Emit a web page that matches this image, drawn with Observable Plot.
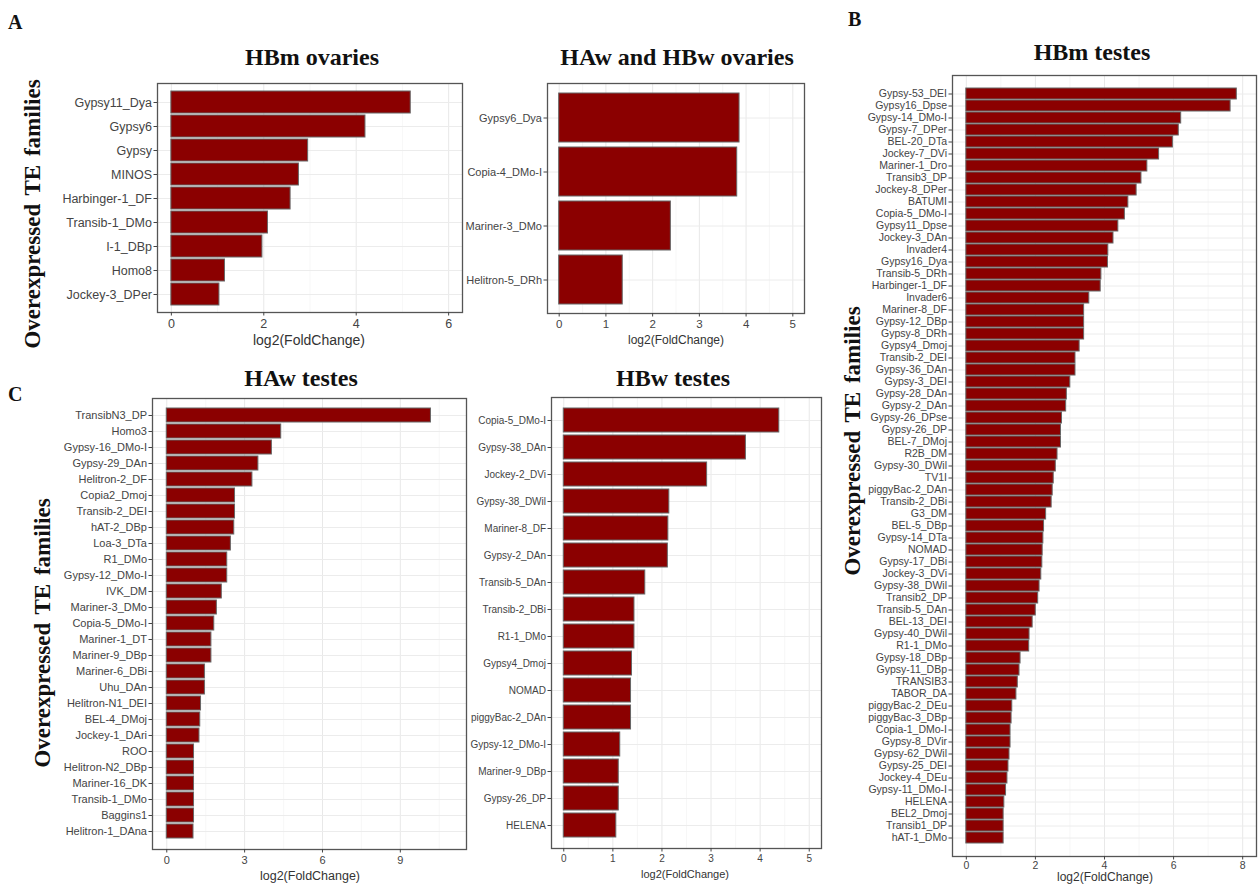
<!DOCTYPE html>
<html>
<head>
<meta charset="utf-8">
<script src="https://cdn.jsdelivr.net/npm/d3@7"></script>
<script src="https://cdn.jsdelivr.net/npm/@observablehq/plot@0.6"></script>
<style>
  html, body { margin: 0; padding: 0; background: #fff; }
  #fig { position: relative; width: 1259px; height: 884px; background: #fff; overflow: hidden; }
  .abs { position: absolute; line-height: 1; white-space: nowrap; }
  .ctr { transform: translate(-50%, -50%); }
  .title { font-family: "Liberation Serif", "Times New Roman", serif; font-weight: bold; font-size: 24px; color: #111; }
  .letter { font-family: "Liberation Serif", "Times New Roman", serif; font-weight: bold; font-size: 20px; color: #111; }
  .ytitle { font-family: "Liberation Serif", "Times New Roman", serif; font-weight: bold; font-size: 23px; color: #111; transform: translate(-50%, -50%) rotate(-90deg); word-spacing: 3px; }
  .xtitle { font-family: "Liberation Sans", Arial, sans-serif; color: #333; }
  .plot { position: absolute; }
</style>
</head>
<body>
<div id="fig"></div>
<script>
// ---------- DATA ----------
// A (left): HBm ovaries
const hbmOvNames = ["Gypsy11_Dya","Gypsy6","Gypsy","MINOS","Harbinger-1_DF","Transib-1_DMo","I-1_DBp","Homo8","Jockey-3_DPer"];
const hbmOvValues = [5.18,4.20,2.96,2.76,2.58,2.09,1.97,1.16,1.04];

// A (right): HAw and HBw ovaries
const hawOvNames = ["Gypsy6_Dya","Copia-4_DMo-I","Mariner-3_DMo","Helitron-5_DRh"];
const hawOvValues = [3.86,3.81,2.39,1.36];

// B: HBm testes
const hbmTeNames = ["Gypsy-53_DEI","Gypsy16_Dpse","Gypsy-14_DMo-I","Gypsy-7_DPer","BEL-20_DTa","Jockey-7_DVi","Mariner-1_Dro","Transib3_DP","Jockey-8_DPer","BATUMI","Copia-5_DMo-I","Gypsy11_Dpse","Jockey-3_DAn","Invader4","Gypsy16_Dya","Transib-5_DRh","Harbinger-1_DF","Invader6","Mariner-8_DF","Gypsy-12_DBp","Gypsy-8_DRh","Gypsy4_Dmoj","Transib-2_DEI","Gypsy-36_DAn","Gypsy-3_DEI","Gypsy-28_DAn","Gypsy-2_DAn","Gypsy-26_DPse","Gypsy-26_DP","BEL-7_DMoj","R2B_DM","Gypsy-30_DWil","TV1I","piggyBac-2_DAn","Transib-2_DBi","G3_DM","BEL-5_DBp","Gypsy-14_DTa","NOMAD","Gypsy-17_DBi","Jockey-3_DVi","Gypsy-38_DWil","Transib2_DP","Transib-5_DAn","BEL-13_DEI","Gypsy-40_DWil","R1-1_DMo","Gypsy-18_DBp","Gypsy-11_DBp","TRANSIB3","TABOR_DA","piggyBac-2_DEu","piggyBac-3_DBp","Copia-1_DMo-I","Gypsy-8_DVir","Gypsy-62_DWil","Gypsy-25_DEI","Jockey-4_DEu","Gypsy-11_DMo-I","HELENA","BEL2_Dmoj","Transib1_DP","hAT-1_DMo"];
const hbmTeValues = [7.83,7.65,6.22,6.15,5.98,5.58,5.24,5.07,4.93,4.69,4.59,4.40,4.26,4.11,4.10,3.91,3.89,3.56,3.41,3.41,3.41,3.28,3.16,3.16,3.01,2.91,2.89,2.77,2.74,2.74,2.64,2.59,2.53,2.50,2.47,2.31,2.25,2.23,2.21,2.20,2.17,2.12,2.08,2.01,1.92,1.83,1.82,1.57,1.54,1.49,1.45,1.33,1.31,1.28,1.28,1.25,1.22,1.19,1.15,1.10,1.08,1.08,1.08];

// C (left): HAw testes
const hawTeNames = ["TransibN3_DP","Homo3","Gypsy-16_DMo-I","Gypsy-29_DAn","Helitron-2_DF","Copia2_Dmoj","Transib-2_DEI","hAT-2_DBp","Loa-3_DTa","R1_DMo","Gypsy-12_DMo-I","IVK_DM","Mariner-3_DMo","Copia-5_DMo-I","Mariner-1_DT","Mariner-9_DBp","Mariner-6_DBi","Uhu_DAn","Helitron-N1_DEI","BEL-4_DMoj","Jockey-1_DAri","ROO","Helitron-N2_DBp","Mariner-16_DK","Transib-1_DMo","Baggins1","Helitron-1_DAna"];
const hawTeValues = [10.18,4.41,4.05,3.53,3.30,2.63,2.63,2.60,2.47,2.33,2.33,2.12,1.93,1.83,1.72,1.72,1.47,1.47,1.32,1.29,1.26,1.05,1.05,1.05,1.05,1.05,1.03];

// C (right): HBw testes
const hbwTeNames = ["Copia-5_DMo-I","Gypsy-38_DAn","Jockey-2_DVi","Gypsy-38_DWil","Mariner-8_DF","Gypsy-2_DAn","Transib-5_DAn","Transib-2_DBi","R1-1_DMo","Gypsy4_Dmoj","NOMAD","piggyBac-2_DAn","Gypsy-12_DMo-I","Mariner-9_DBp","Gypsy-26_DP","HELENA"];
const hbwTeValues = [4.39,3.71,2.92,2.15,2.13,2.12,1.66,1.44,1.44,1.39,1.37,1.37,1.15,1.12,1.12,1.07];

// tick labels
const ticks0to6 = [0,2,4,6], minor0to6 = [1,3,5];
const ticks0to5 = [0,1,2,3,4,5], minor0to5 = [0.5,1.5,2.5,3.5,4.5];
const ticks0to8 = [0,2,4,6,8], minor0to8 = [1,3,5,7];
const ticks0to9 = [0,3,6,9], minor0to9 = [1.5,4.5,7.5,10.5];

const xLabel = "log2(FoldChange)";
const yLabel = "Overexpressed TE families";

// ---------- DRAW ----------
const fig = document.getElementById("fig");
const SANS = '"Liberation Sans", Arial, sans-serif';

function addText(cls, text, x, y, extraStyle) {
  const d = document.createElement("div");
  d.className = "abs " + cls;
  d.textContent = text;
  d.style.left = x + "px";
  d.style.top = y + "px";
  if (extraStyle) Object.assign(d.style, extraStyle);
  fig.appendChild(d);
  return d;
}

function panel(cfg) {
  const data = cfg.names.map((n, i) => ({name: n, value: cfg.values[i]}));
  const mL = cfg.marginLeft, mT = 1, mR = 1, mB = 22;
  const chart = Plot.plot({
    width: mL + cfg.w + mR,
    height: mT + cfg.h + mB,
    marginLeft: mL, marginTop: mT, marginRight: mR, marginBottom: mB,
    style: {fontFamily: SANS, background: "transparent", overflow: "visible"},
    x: {domain: cfg.domain},
    y: {domain: cfg.names, paddingInner: 0.1, paddingOuter: 0.15},
    marks: [
      Plot.gridX(cfg.minor, {stroke: "#f3f3f3", strokeOpacity: 1, strokeWidth: 0.7}),
      Plot.gridX(cfg.ticks, {stroke: "#e8e8e8", strokeOpacity: 1, strokeWidth: 1}),
      Plot.gridY({stroke: "#ececec", strokeOpacity: 1, strokeWidth: 1}),
      Plot.barX(data, {x: "value", y: "name", fill: "#8B0000", stroke: "#666", strokeWidth: 1}),
      Plot.frame({stroke: "#555", strokeWidth: 1.3}),
      Plot.axisX(cfg.ticks, {tickSize: 3.5, tickPadding: cfg.xPad ?? 3, fontSize: cfg.xFont, color: "#444", label: null}),
      Plot.axisY({tickSize: 3.5, tickPadding: 2, fontSize: cfg.yFont, color: "#444", label: null})
    ]
  });
  chart.classList.add("plot");
  chart.style.left = (cfg.left - mL) + "px";
  chart.style.top = (cfg.top - mT) + "px";
  fig.appendChild(chart);
  addText("title ctr", cfg.title, cfg.titleX, cfg.titleY);
  addText("xtitle ctr", xLabel, cfg.xtX, cfg.xtY, {fontSize: cfg.xtFont + "px"});
}

panel({title: "HBm ovaries", names: hbmOvNames, values: hbmOvValues,
  domain: [-0.3, 6.3], ticks: ticks0to6, minor: minor0to6,
  left: 157, top: 83, w: 305, h: 229, marginLeft: 100, yFont: 12.5, xFont: 12.5,
  titleX: 312, titleY: 57, xtX: 309, xtY: 340, xtFont: 14});

panel({title: "HAw and HBw ovaries", names: hawOvNames, values: hawOvValues,
  domain: [-0.25, 5.25], ticks: ticks0to5, minor: minor0to5,
  left: 547, top: 83, w: 257, h: 230, marginLeft: 85, yFont: 11, xFont: 11.5,
  titleX: 677, titleY: 57, xtX: 676, xtY: 340, xtFont: 12});

panel({title: "HBm testes", names: hbmTeNames, values: hbmTeValues,
  domain: [-0.4, 8.4], ticks: ticks0to8, minor: minor0to8,
  left: 952, top: 75, w: 304, h: 781, marginLeft: 95, yFont: 10.5, xFont: 10.5, xPad: 1.5,
  titleX: 1092, titleY: 52, xtX: 1105, xtY: 877, xtFont: 12});

panel({title: "HAw testes", names: hawTeNames, values: hawTeValues,
  domain: [-0.55, 11.55], ticks: ticks0to9, minor: minor0to9,
  left: 152, top: 398, w: 314, h: 451, marginLeft: 100, yFont: 11, xFont: 11,
  titleX: 301, titleY: 378, xtX: 310, xtY: 876, xtFont: 12.5});

panel({title: "HBw testes", names: hbwTeNames, values: hbwTeValues,
  domain: [-0.25, 5.25], ticks: ticks0to5, minor: minor0to5,
  left: 551, top: 397, w: 270, h: 451, marginLeft: 78, yFont: 10, xFont: 10,
  titleX: 673, titleY: 378, xtX: 685, xtY: 874, xtFont: 11});

// panel letters
addText("letter", "A", 8, 12);
addText("letter", "B", 848, 9);
addText("letter", "C", 8, 384);

// y-axis titles
addText("ytitle", yLabel, 32, 214);
addText("ytitle", yLabel, 852, 441);
addText("ytitle", yLabel, 42, 633);
</script>
</body>
</html>
